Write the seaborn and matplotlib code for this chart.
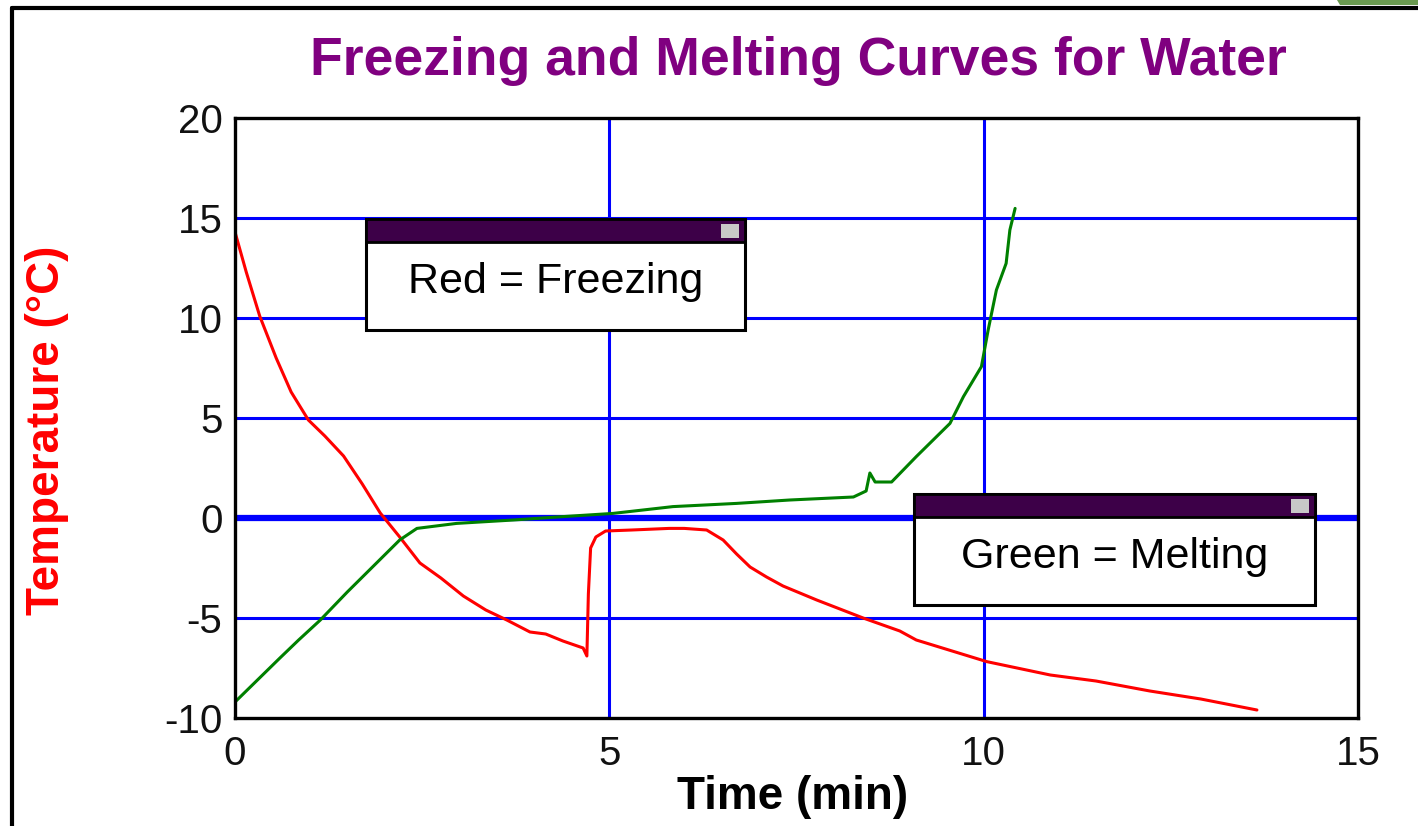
import matplotlib
matplotlib.use("Agg")
from matplotlib import pyplot as plt
from matplotlib.patches import Rectangle, Polygon
from matplotlib.lines import Line2D
import pandas as pd
import seaborn as sns

# freezing curve (red)
freeze_time = [0.0, 0.15, 0.33, 0.55, 0.75, 0.98, 1.2, 1.45, 1.7, 1.94, 2.2, 2.47,
               2.75, 3.05, 3.35, 3.63, 3.94, 4.15, 4.38, 4.65, 4.7, 4.72, 4.75,
               4.82, 4.95, 5.3, 5.8, 6.0, 6.3, 6.52, 6.7, 6.88, 7.1, 7.32, 7.77,
               8.39, 8.88, 9.1, 10.04, 10.89, 11.5, 12.22, 12.9, 13.65]
freeze_temp = [14.3, 12.3, 10.1, 8.0, 6.3, 4.9, 4.1, 3.1, 1.7, 0.25, -0.95, -2.25,
               -3.0, -3.9, -4.6, -5.1, -5.7, -5.8, -6.15, -6.5, -6.9, -3.8, -1.5,
               -0.95, -0.65, -0.6, -0.52, -0.52, -0.6, -1.1, -1.8, -2.45, -2.95,
               -3.4, -4.1, -5.0, -5.65, -6.1, -7.18, -7.85, -8.15, -8.65, -9.05,
               -9.6]

# melting curve (green)
melt_time = [0.0, 0.3, 0.6, 0.85, 1.14, 1.5, 1.85, 2.2, 2.43, 2.96, 3.72, 4.38,
             5.05, 5.85, 6.7, 7.41, 8.26, 8.43, 8.48, 8.55, 8.77, 9.1, 9.55,
             9.73, 9.97, 10.06, 10.17, 10.3, 10.35, 10.42]
melt_temp = [-9.2, -8.1, -7.0, -6.1, -5.1, -3.7, -2.4, -1.1, -0.52, -0.27, -0.1,
             0.07, 0.23, 0.57, 0.73, 0.9, 1.05, 1.35, 2.25, 1.8, 1.8, 3.07, 4.73,
             6.07, 7.57, 9.4, 11.4, 12.73, 14.4, 15.48]

x_ticks = [0, 5, 10, 15]
y_ticks = [-10, -5, 0, 5, 10, 15, 20]

title = "Freezing and Melting Curves for Water"
x_label = "Time (min)"
y_label = "Temperature (°C)"
notes = ["Red = Freezing", "Green = Melting"]

df_red = pd.DataFrame({"time": freeze_time, "temp": freeze_temp})
df_green = pd.DataFrame({"time": melt_time, "temp": melt_temp})

sns.set_style("white")
plt.rcParams["font.family"] = ["Liberation Sans", "DejaVu Sans"]
plt.rcParams["axes.unicode_minus"] = False

W, H = 1418, 826
fig = plt.figure(figsize=(W / 100, H / 100), dpi=100)


def fx(x):
    return x / W


def fy(y):
    return 1 - y / H


ax = fig.add_axes([fx(235), fy(718), fx(1358) - fx(235), fy(118) - fy(718)])

# grid
for gx in [5, 10]:
    ax.axvline(gx, color="#0000ff", lw=2.2, zorder=1)
for gy in [-5, 5, 10, 15]:
    ax.axhline(gy, color="#0000ff", lw=2.2, zorder=1)
ax.axhline(0, color="#0000ff", lw=4.5, zorder=1)

sns.lineplot(data=df_red, x="time", y="temp", estimator=None, sort=False,
             color="#ff0000", lw=2.2, ax=ax, zorder=3)
sns.lineplot(data=df_green, x="time", y="temp", estimator=None, sort=False,
             color="#008000", lw=2.2, ax=ax, zorder=3)

ax.set_xlim(0, 15)
ax.set_ylim(-10, 20)
ax.set_xticks(x_ticks)
ax.set_yticks(y_ticks)
ax.set_xlabel("")
ax.set_ylabel("")
ax.tick_params(direction="in", length=12, width=2.2, color="black",
               labelsize=29, labelcolor="#111111")
ax.tick_params(axis="y", pad=9)
ax.tick_params(axis="x", pad=12)
for s in ax.spines.values():
    s.set_color("black")
    s.set_linewidth(2.4)
    s.set_zorder(5)

# titles
fig.text(fx(798), fy(61), title, color="#800080", fontsize=38.5,
         fontweight="bold", ha="center", va="center")
fig.text(fx(793), fy(797), x_label, color="black", fontsize=33,
         fontweight="bold", ha="center", va="center")
fig.text(fx(47), fy(430), y_label, color="#ff0000", fontsize=33,
         fontweight="bold", ha="center", va="center", rotation=90)

# note boxes
boxes = [(366, 219, 745, 330, 242), (914, 494, 1315, 605, 517)]
for (x0, y0, x1, y1, yb), note in zip(boxes, notes):
    fig.patches.append(Rectangle((fx(x0), fy(y1)), fx(x1) - fx(x0), fy(y0) - fy(y1),
                                 transform=fig.transFigure, facecolor="white",
                                 edgecolor="black", lw=2.2, zorder=10))
    fig.patches.append(Rectangle((fx(x0), fy(yb)), fx(x1) - fx(x0), fy(y0) - fy(yb),
                                 transform=fig.transFigure, facecolor="#3d0048",
                                 edgecolor="black", lw=2.0, zorder=11))
    fig.patches.append(Rectangle((fx(x1 - 24), fy(yb - 4)), fx(18), fy(0) - fy(14),
                                 transform=fig.transFigure, facecolor="#c8c8c8",
                                 edgecolor="none", zorder=12))
    fig.text(fx((x0 + x1) / 2), fy((yb + y1) / 2 - 4), note, color="black",
             fontsize=31, ha="center", va="center", zorder=13)

# window frame
fig.lines.append(Line2D([fx(12), fx(12)], [fy(8), 0], transform=fig.transFigure,
                        color="black", lw=3))
fig.lines.append(Line2D([fx(12), 1], [fy(8), fy(8)], transform=fig.transFigure,
                        color="black", lw=3))
fig.patches.append(Polygon([(fx(1337), 1), (1, 1), (1, fy(5)), (fx(1340), fy(5))],
                           closed=True, transform=fig.transFigure,
                           facecolor="#6a9a50", edgecolor="none"))

fig.savefig("out.png", dpi=100)
